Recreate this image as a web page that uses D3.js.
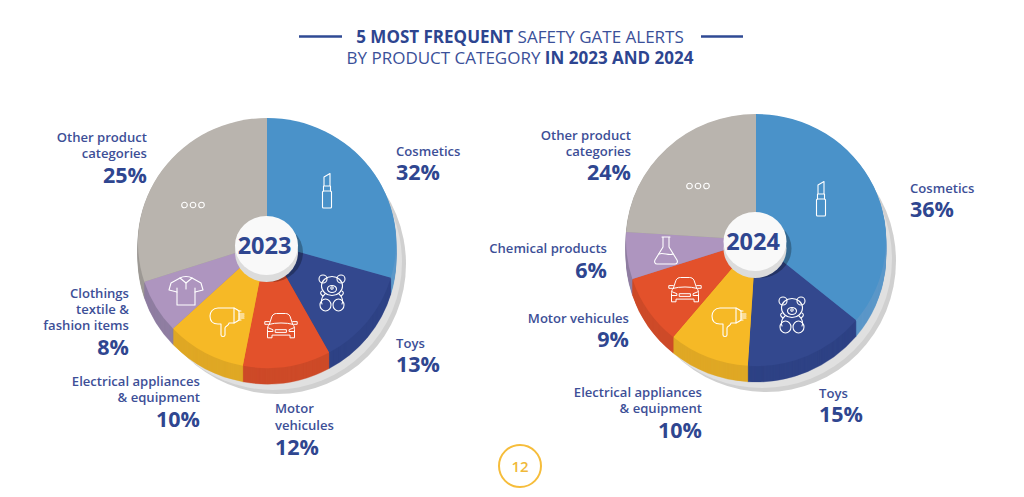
<!DOCTYPE html>
<html lang="en">
<head>
<meta charset="UTF-8">
<title>5 most frequent Safety Gate alerts</title>
<script src="https://d3js.org/d3.v7.min.js"></script>
<style>
  html, body { margin: 0; background: #fff; }
  svg { display: block; font-family: "Open Sans", sans-serif; }
  .lbl { font-size: 13.1px; font-weight: 600; fill: #3d4f97; }
  .pct { font-size: 21.5px; font-weight: 700; fill: #2f4690; }
  .ttl { font-size: 17px; fill: #3a5099; }
  .ttl .b { font-weight: 700; fill: #2d4590; }
  .icon { fill: none; stroke: #fff; stroke-width: 1.1; stroke-linejoin: round; stroke-linecap: round; }
</style>
</head>
<body>
<svg id="chart" width="1024" height="497"></svg>
<script>
// values printed on the page
var categories2023 = ["Cosmetics", "Toys", "Motor vehicules", "Electrical appliances", "Clothings", "Other"];
var shares2023 = [32, 13, 12, 10, 8, 25];
// the 2023 pie in the source is not drawn to its own labels, so these are the slice sizes measured off it
var drawn2023 = [29.5, 12.5, 11, 10, 7, 30];

var categories2024 = ["Cosmetics", "Toys", "Electrical appliances", "Motor vehicules", "Chemical", "Other"];
var shares2024 = [36, 15, 10, 9, 6, 24];

var colors = {
  "Cosmetics": ["#4a92c9", "#5c97c8"],
  "Toys": ["#33488e", "#2e4285"],
  "Motor vehicules": ["#e3512b", "#cd4a28"],
  "Electrical appliances": ["#f6b926", "#dfa825"],
  "Clothings": ["#ae95bf", "#8f7ea1"],
  "Chemical": ["#ae95bf", "#8f7ea1"],
  "Other": ["#b9b4ae", "#9e9a95"]
};

var svg = d3.select("#chart");

// little white outline pictures, drawn round 0,0
var icons = {
  lipstick: function(g) {
    g.append("rect").attr("x", -4.5).attr("y", 0).attr("width", 9).attr("height", 17).attr("rx", 1);
    g.append("path").attr("d", "M-3.5,0V-5H3.5V0M-3,-5V-14L3,-17.5V-5");
  },
  dots: function(g) {
    [-8.5, 0, 8.5].forEach(function(x) {
      g.append("circle").attr("cx", x).attr("r", 2.8);
    });
  },
  bear: function(g) {
    g.append("circle").attr("cx", -9).attr("cy", -15).attr("r", 4);
    g.append("circle").attr("cx", 9).attr("cy", -15).attr("r", 4);
    g.append("ellipse").attr("cy", -8).attr("rx", 10.5).attr("ry", 9.5);
    g.append("ellipse").attr("cy", -5).attr("rx", 4.5).attr("ry", 3.5);
    g.append("circle").attr("cy", -6).attr("r", 1.2);
    g.append("path").attr("d", "M-7,0C-11,3 -11,8 -10,10M7,0C11,3 11,8 10,10");
    g.append("ellipse").attr("cx", -6.5).attr("cy", 11).attr("rx", 5.5).attr("ry", 6);
    g.append("ellipse").attr("cx", 6.5).attr("cy", 11).attr("rx", 5.5).attr("ry", 6);
    g.append("path").attr("d", "M-9,2C-12,0 -12,-2 -10,-3M9,2C12,0 12,-2 10,-3");
  },
  car: function(g) {
    g.attr("stroke-width", 1.2);
    var c = g.append("g").attr("transform", "scale(0.9)");
    c.append("path").attr("d", "M-13,-3L-10,-12C-9,-14 -7,-15 -5,-15H5C7,-15 9,-14 10,-12L13,-3C15,-1 15,1 15,3V12H10V9H-10V12H-15V3C-15,1 -15,-1 -13,-3Z");
    c.append("path").attr("d", "M-13,-3C-6,-5 6,-5 13,-3M-13,-6H-18V-3H-14M13,-6H18V-3H14");
    c.append("path").attr("d", "M-6,3H6V6H-6ZM-14,1L-9,3V5H-14M14,1L9,3V5H14");
  },
  dryer: function(g) {
    g.append("path").attr("d", "M8,-11H-8C-13,-11 -16,-7 -16,-3C-16,2 -13,5 -8,5H-5V16C-5,18 -1,18 -1,16V9C-1,7 3,7 3,4H8C10,3 12,2 13,1V-8C12,-9 10,-10 8,-11Z");
    g.append("path").attr("d", "M13,-8H15M13,-5H18M13,-3H18M13,-1H18M13,1H15M8,-11V4");
  },
  shirt: function(g) {
    g.append("path").attr("d", "M-6,-13L-15,-8L-17,-1L-9,1V14H9V1L17,-1L15,-8L6,-13L0,-8Z");
    g.append("path").attr("d", "M-6,-13C-3,-15 3,-15 6,-13M0,-8V-2M-9,1V-3M9,1V-3");
  },
  flask: function(g) {
    g.append("path").attr("d", "M-4,-14H4M-3,-14V-4L-11,9C-12,11 -11,13 -9,13H9C11,13 12,11 11,9L3,-4V-14");
    g.append("path").attr("d", "M-7,3C-3,1 3,5 7,3");
  }
};

function drawPie(o) {
  var rx = o.rx, ry = o.ry, depth = 16;
  var pie = d3.pie().sort(null).value(function(d) { return d.value; });
  var arc = d3.arc().innerRadius(0).outerRadius(rx);
  var slices = pie(o.categories.map(function(c, i) { return { name: c, value: o.values[i] }; }));
  var g = svg.append("g");
  var squash = "scale(1," + (ry / rx) + ")";

  // grey shadow under the whole disc, lighter band next to the wall
  g.append("ellipse").attr("cx", o.cx + 10).attr("cy", o.cy + 21).attr("rx", rx).attr("ry", ry + 5).attr("fill", "#d0d0d0");
  g.append("ellipse").attr("cx", o.cx + 6).attr("cy", o.cy + 19).attr("rx", rx).attr("ry", ry + 3).attr("fill", "#e0e0e0");

  // wall, just stacked copies of the slices
  d3.range(depth, 0, -1).forEach(function(dz) {
    g.append("g").attr("transform", "translate(" + o.cx + "," + (o.cy + dz) + ") " + squash)
      .selectAll("path").data(slices).enter().append("path")
      .attr("d", arc)
      .attr("fill", function(d) { return colors[d.data.name][1]; })
      .attr("stroke", function(d) { return colors[d.data.name][1]; })
      .attr("stroke-width", 0.4);
  });

  g.append("g").attr("transform", "translate(" + o.cx + "," + o.cy + ") " + squash)
    .selectAll("path").data(slices).enter().append("path")
    .attr("d", arc)
    .attr("fill", function(d) { return colors[d.data.name][0]; });

  o.icons.forEach(function(ic) {
    var ig = g.append("g").attr("class", "icon").attr("transform", "translate(" + ic[1] + "," + ic[2] + ")");
    icons[ic[0]](ig);
  });

  // centre button
  var hx = o.hubX, hy = o.hubY;
  g.append("ellipse").attr("cx", hx + 5).attr("cy", hy + 7).attr("rx", 31.5).attr("ry", 29.5).attr("fill", "#000").attr("opacity", 0.28);
  g.append("ellipse").attr("cx", hx).attr("cy", hy + 7).attr("rx", 31.5).attr("ry", 29.5).attr("fill", "#dcdcdc");
  g.append("ellipse").attr("cx", hx).attr("cy", hy).attr("rx", 31.5).attr("ry", 29.5).attr("fill", "#f9f9f9");
  g.append("text").attr("x", hx - 2).attr("y", hy + 8).attr("text-anchor", "middle")
    .attr("font-size", 23.5).attr("font-weight", 700).attr("fill", "#2f4690").text(o.year);
}

function label(x, anchor, lines, ys, pct, pctY) {
  lines.forEach(function(t, i) {
    svg.append("text").attr("class", "lbl").attr("x", x).attr("y", ys[i]).attr("text-anchor", anchor).text(t);
  });
  svg.append("text").attr("class", "pct").attr("x", x).attr("y", pctY).attr("text-anchor", anchor).text(pct + "%");
}

drawPie({
  cx: 267, cy: 243, hubX: 266.5, hubY: 245.5, rx: 129, ry: 125, year: "2023",
  categories: categories2023, values: drawn2023,
  icons: [["lipstick", 327, 191], ["bear", 332, 294], ["car", 281, 327], ["dryer", 226, 319], ["shirt", 186, 291], ["dots", 193, 205]]
});
drawPie({
  cx: 756, cy: 240, hubX: 755, hubY: 241.5, rx: 130, ry: 126, year: "2024",
  categories: categories2024, values: shares2024,
  icons: [["lipstick", 821, 199], ["bear", 792, 316], ["dryer", 728, 319], ["car", 685, 291], ["flask", 666, 251], ["dots", 698, 186]]
});

label(396, "start", ["Cosmetics"], [156], shares2023[0], 180);
label(396, "start", ["Toys"], [348], shares2023[1], 372);
label(275, "start", ["Motor", "vehicules"], [413, 430], shares2023[2], 455);
label(200, "end", ["Electrical appliances", "& equipment"], [386, 402], shares2023[3], 427);
label(129, "end", ["Clothings", "textile &", "fashion items"], [298, 314, 330], shares2023[4], 355);
label(147, "end", ["Other product", "categories"], [142, 158], shares2023[5], 183);

label(910, "start", ["Cosmetics"], [193], shares2024[0], 217);
label(819, "start", ["Toys"], [398], shares2024[1], 422);
label(702, "end", ["Electrical appliances", "& equipment"], [397, 413], shares2024[2], 438);
label(629, "end", ["Motor vehicules"], [323], shares2024[3], 347);
label(607, "end", ["Chemical products"], [253], shares2024[4], 278);
label(631, "end", ["Other product", "categories"], [140, 156], shares2024[5], 180);

// title
var t1 = svg.append("text").attr("class", "ttl").attr("x", 520).attr("y", 43).attr("text-anchor", "middle");
t1.append("tspan").attr("class", "b").text("5 MOST FREQUENT");
t1.append("tspan").text(" SAFETY GATE ALERTS");
var t2 = svg.append("text").attr("class", "ttl").attr("x", 520).attr("y", 64).attr("text-anchor", "middle");
t2.append("tspan").text("BY PRODUCT CATEGORY ");
t2.append("tspan").attr("class", "b").text("IN 2023 AND 2024");
[[299, 342], [701, 743]].forEach(function(l) {
  svg.append("line").attr("x1", l[0]).attr("x2", l[1]).attr("y1", 36.5).attr("y2", 36.5)
    .attr("stroke", "#2f4a94").attr("stroke-width", 2.5);
});

// page number
svg.append("circle").attr("cx", 520).attr("cy", 466).attr("r", 21).attr("fill", "none").attr("stroke", "#f6bd3b").attr("stroke-width", 2);
svg.append("text").attr("x", 520).attr("y", 472).attr("text-anchor", "middle").attr("font-size", 15)
  .attr("font-weight", 600).attr("fill", "#f0b93a").text("12");
</script>
</body>
</html>
